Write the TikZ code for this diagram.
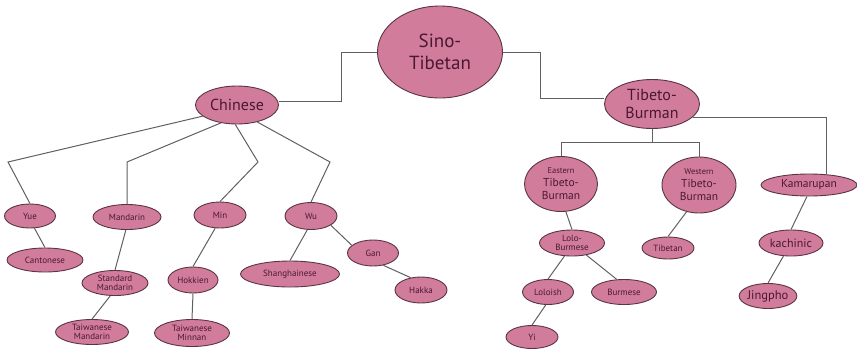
\documentclass[tikz,border=0pt]{standalone}
\usepackage{fontspec}
\setmainfont{PT Sans}
\usetikzlibrary{shapes.geometric}
\definecolor{pinkc}{HTML}{D27C9C}
\definecolor{bordc}{HTML}{5A3444}
\definecolor{txtc}{HTML}{4A1830}
\definecolor{linec}{HTML}{606060}
\newcommand{\fs}[2]{\fontsize{#1}{#2}\selectfont}
\tikzset{
  nd/.style={ellipse, draw=bordc, fill=pinkc, line width=0.9pt, inner sep=0pt, text=txtc, align=center, font=\fs{9}{9.5}},
  ln/.style={draw=linec, line width=1pt},
}
\begin{document}
\begin{tikzpicture}[x=1pt,y=-1pt]
\useasboundingbox (0,0) rectangle (857,349);
\node[nd, minimum width=125, minimum height=92, font=\fs{19}{22}] (ST) at (440,52) {Sino-\\Tibetan};
\node[nd, minimum width=83, minimum height=38, font=\fs{16}{18}] (CH) at (237,105) {Chinese};
\node[nd, minimum width=95, minimum height=49, font=\fs{16}{18}] (TB) at (652,104) {Tibeto-\\Burman};
\node[nd, minimum width=73, minimum height=55, font=\fs{11.5}{13}] (ETB) at (561,184) {{\fs{8.5}{10}Eastern}\\Tibeto-\\Burman};
\node[nd, minimum width=74, minimum height=56, font=\fs{11.5}{13}] (WTB) at (699,185) {{\fs{8.5}{10}Western}\\Tibeto-\\Burman};
\node[nd, minimum width=96, minimum height=22, font=\fs{11.5}{12}] (KM) at (809,185) {Kamarupan};
\node[nd, minimum width=65, minimum height=26] (LB) at (572,243) {Lolo-\\Burmese};
\node[nd, minimum width=52, minimum height=22] (TI) at (668,248) {Tibetan};
\node[nd, minimum width=64, minimum height=26, font=\fs{12}{12}] (KA) at (791,243) {kachinic};
\node[nd, minimum width=51, minimum height=25] (LO) at (548,292) {Loloish};
\node[nd, minimum width=65, minimum height=25] (BU) at (624,292) {Burmese};
\node[nd, minimum width=52, minimum height=23] (YI) at (532,337) {Yi};
\node[nd, minimum width=50, minimum height=25, font=\fs{12.5}{13}] (JI) at (768,296) {Jingpho};
\node[nd, minimum width=51, minimum height=24] (YU) at (30,216) {Yue};
\node[nd, minimum width=76, minimum height=24] (CA) at (45,260) {Cantonese};
\node[nd, minimum width=68, minimum height=25] (MA) at (127,217) {Mandarin};
\node[nd, minimum width=66, minimum height=25] (SM) at (115,283) {Standard\\Mandarin};
\node[nd, minimum width=73, minimum height=25] (TM) at (92,332) {Taiwanese\\Mandarin};
\node[nd, minimum width=52, minimum height=26] (MI) at (220,215) {Min};
\node[nd, minimum width=50, minimum height=26] (HO) at (193,280) {Hokkien};
\node[nd, minimum width=75, minimum height=27] (TN) at (192,333) {Taiwanese\\Minnan};
\node[nd, minimum width=52, minimum height=27] (WU) at (311,216) {Wu};
\node[nd, minimum width=99, minimum height=26] (SH) at (290,274) {Shanghainese};
\node[nd, minimum width=51, minimum height=26] (GA) at (373,253) {Gan};
\node[nd, minimum width=52, minimum height=26] (HA) at (421,290) {Hakka};
% corner coordinates
\coordinate (cy) at (8,162);
\coordinate (cm) at (127,162);
\coordinate (cn) at (258,162);
\coordinate (cw) at (330,162);
% connectors
\draw[ln] (ST.west) -- ++(-36,0) |- ([yshift=4pt]CH.east);
\draw[ln] (ST.east) -- ++(38,0) |- ([yshift=6pt]TB.west);
\draw[ln] (TB.south) -- ++(0,14) coordinate (tbj);
\draw[ln] (ETB.north) -- (ETB.north |- tbj) -- (WTB.north |- tbj) -- (WTB.north);
\draw[ln] (TB.-18) -| ([xshift=17pt]KM.north);
\draw[ln] (ETB.-80) -- (LB.north);
\draw[ln] (WTB.-115) -- (TI.north);
\draw[ln] (KM.-100) -- (KA.north);
\draw[ln] (LB.-120) -- (LO.north);
\draw[ln] (LB.-40) -- (BU.120);
\draw[ln] (LO.-100) -- (YI.north);
\draw[ln] (KA.-120) -- (JI.north);
\draw[ln] (CH.198) -- (cy) -- (YU.north);
\draw[ln] (CH.228) -- (cm) -- (MA.north);
\draw[ln] (CH.265) -- (cn) -- (MI.north);
\draw[ln] (CH.-40) -- (cw) -- (WU.north);
\draw[ln] (YU.-70) -- (CA.north);
\draw[ln] (MA.-95) -- (SM.north);
\draw[ln] (SM.-110) -- (TM.north);
\draw[ln] (MI.-110) -- (HO.north);
\draw[ln] (HO.south) -- (TN.north);
\draw[ln] (WU.-105) -- (SH.north);
\draw[ln] (WU.-25) -- (GA.160);
\draw[ln] (GA.-50) -- (HA.130);
\end{tikzpicture}
\end{document}
